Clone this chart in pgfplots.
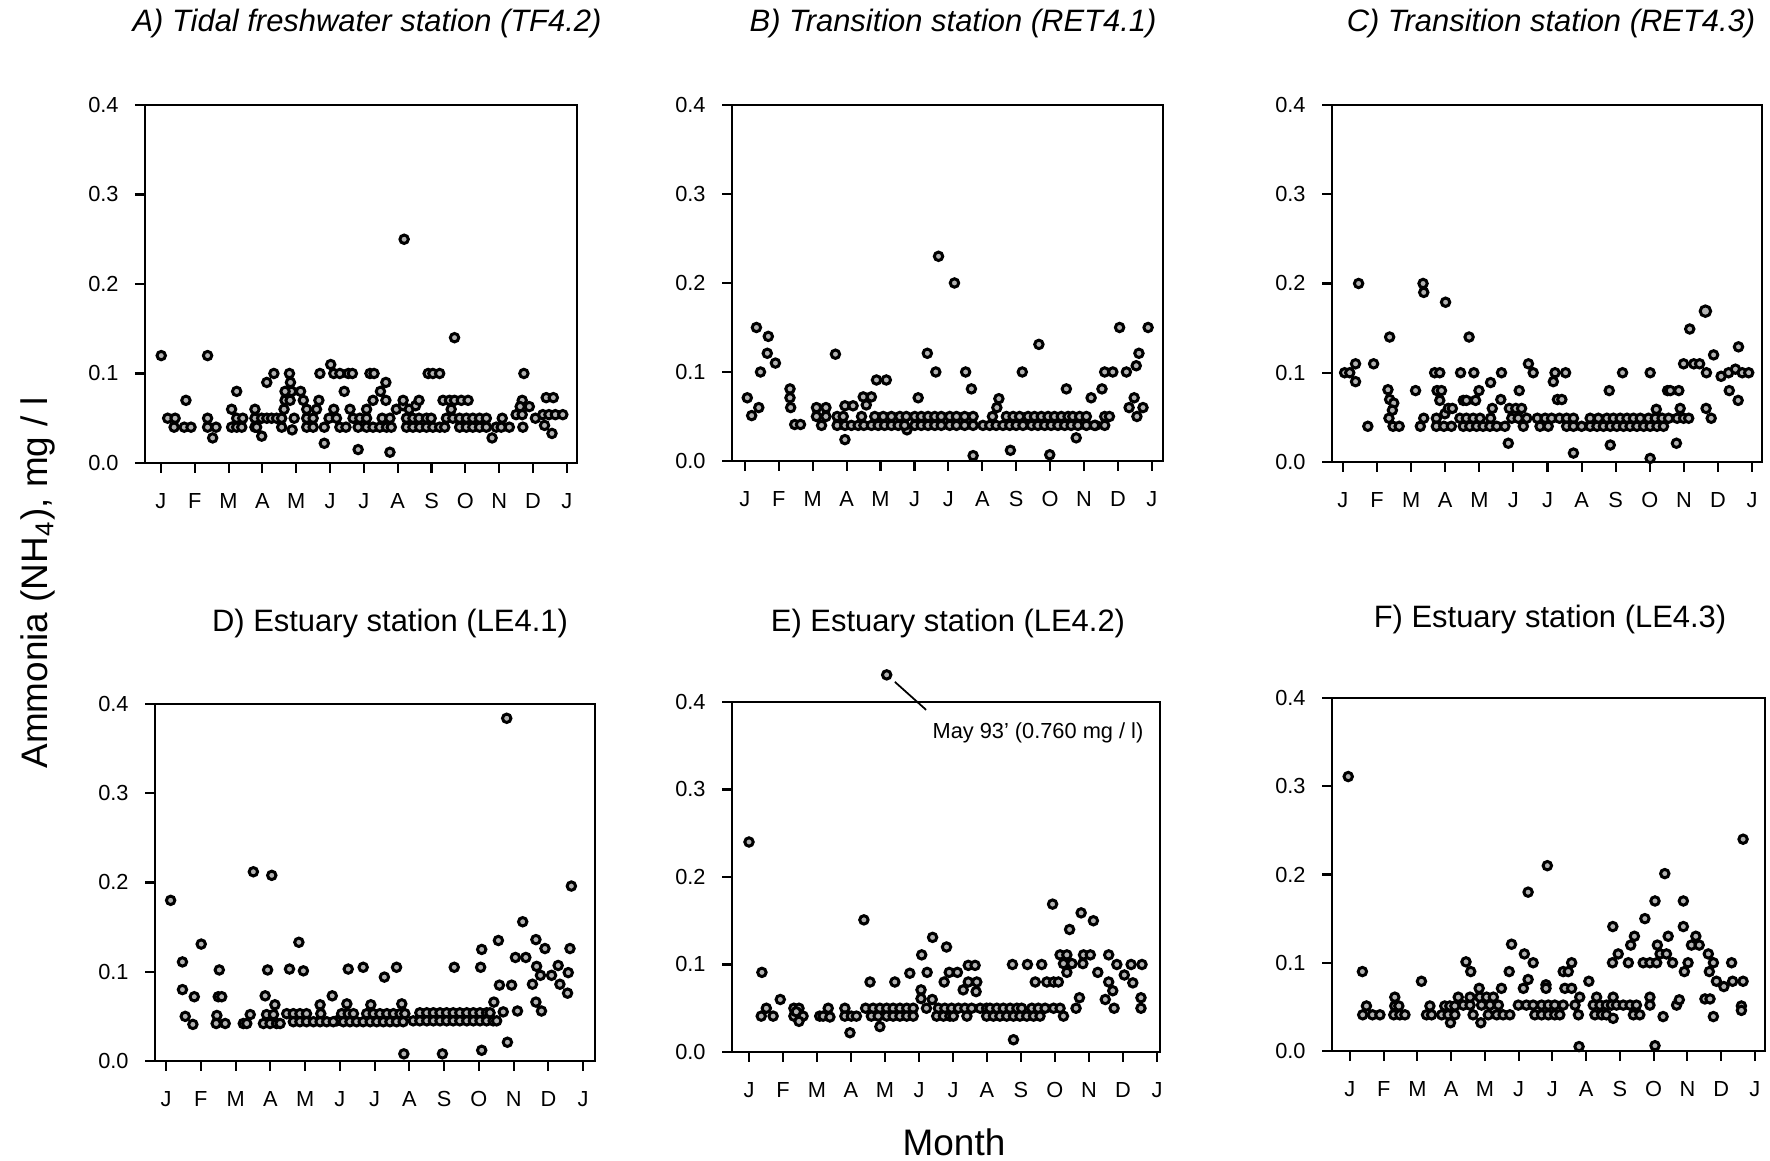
\documentclass[border=0pt]{standalone}
\usepackage{pgfplots}
\pgfplotsset{compat=1.18}
\usepackage{fontspec}
\setmainfont{Liberation Sans}

\pgfplotsset{
  panel/.style={
    scale only axis,
    anchor=south west,
    ymin=0, ymax=0.4,
    ytick={0,0.1,0.2,0.3,0.4},
    yticklabels={0.0,0.1,0.2,0.3,0.4},
    xtick={0,1,2,3,4,5,6,7,8,9,10,11,12},
    xticklabels={J,F,M,A,M,J,J,A,S,O,N,D,J},
    xtick pos=left, ytick pos=left,
    tick align=outside,
    major tick length=1mm,
    axis line style={line width=0.6pt},
    every tick/.style={black, line width=0.6pt},
    ticklabel style={font=\fontsize{6.2}{7}\selectfont},
    xticklabel style={yshift=-0.8mm},
    yticklabel style={xshift=-0.4mm},
  },
  pts/.style={only marks, mark=*, mark size=1.2pt,
    mark options={fill=gray!60, draw=black, line width=0.85pt}},
}

\begin{document}
\begin{tikzpicture}
\path[use as bounding box] (0,0) rectangle (177mm,116.1mm);

% ---------- A) TF4.2
\begin{axis}[panel, at={(14.5mm,69.8mm)}, width=43.2mm, height=35.8mm,
  xmin=-0.47, xmax=12.3]
\addplot[pts] coordinates {
(0.01,0.12) (1.38,0.12) (7.19,0.25) (8.68,0.14) (0.74,0.07)
(0.20,0.05) (0.42,0.05) (0.39,0.04) (0.69,0.04) (0.89,0.04)
(1.38,0.05) (1.38,0.04) (1.63,0.04) (1.53,0.028)
(2.24,0.08) (2.09,0.06) (2.09,0.04) (2.24,0.04) (2.39,0.04) (2.24,0.05) (2.42,0.05)
(2.78,0.06) (2.78,0.05) (2.98,0.05) (3.13,0.05) (3.27,0.05) (3.42,0.05)
(2.78,0.04) (2.83,0.04) (2.98,0.03) (3.13,0.09) (3.34,0.10)
(3.57,0.05) (3.57,0.04)
(3.80,0.10) (3.83,0.09) (3.86,0.08) (3.67,0.08) (3.67,0.07) (3.82,0.07) (3.64,0.06) (3.88,0.037) (3.94,0.05)
(4.13,0.08) (4.21,0.07) (4.31,0.06) (4.31,0.05) (4.50,0.05) (4.31,0.04) (4.50,0.04) (4.67,0.07) (4.60,0.06)
(4.70,0.10) (4.83,0.022) (4.83,0.04)
(4.97,0.05) (5.19,0.05) (5.11,0.06)
(5.02,0.11) (5.11,0.10) (5.29,0.10) (5.54,0.10) (5.66,0.10)
(5.29,0.04) (5.47,0.04) (5.42,0.08) (5.59,0.06) (5.83,0.015)
(5.68,0.05) (5.88,0.05) (6.08,0.05)
(5.83,0.04) (6.08,0.04) (6.27,0.04) (6.47,0.04) (6.67,0.04) (6.81,0.04)
(6.08,0.06) (6.27,0.07) (6.18,0.10) (6.30,0.10)
(6.49,0.08) (6.65,0.09) (6.65,0.07) (6.77,0.012)
(6.54,0.05) (6.77,0.05)
(6.96,0.06) (7.16,0.064) (7.34,0.06) (7.53,0.064) (7.16,0.07) (7.63,0.07)
(7.26,0.05) (7.45,0.05) (7.63,0.05) (7.85,0.05) (7.99,0.05)
(7.26,0.04) (7.45,0.04) (7.65,0.04) (7.85,0.04) (8.04,0.04) (8.24,0.04) (8.39,0.04)
(7.90,0.10) (8.04,0.10) (8.24,0.10)
(8.34,0.07) (8.53,0.07) (8.68,0.07) (8.88,0.07) (9.08,0.07) (8.58,0.06)
(8.44,0.05) (8.63,0.05) (8.83,0.05) (9.03,0.05) (9.22,0.05) (9.42,0.05) (9.62,0.05)
(8.83,0.04) (9.03,0.04) (9.22,0.04) (9.42,0.04) (9.62,0.04)
(9.79,0.028) (9.91,0.04) (10.06,0.04) (10.30,0.04) (10.09,0.05)
(10.73,0.10) (10.68,0.07) (10.62,0.063) (10.89,0.063) (10.50,0.054) (10.68,0.054) (10.70,0.04)
(11.07,0.05) (11.29,0.054) (11.47,0.054) (11.66,0.054) (11.88,0.054)
(11.34,0.042) (11.39,0.073) (11.60,0.073) (11.56,0.033)
};
\end{axis}

% ---------- B) RET4.1
\begin{axis}[panel, at={(73.2mm,70.0mm)}, width=43.1mm, height=35.6mm,
  xmin=-0.38, xmax=12.33]
\addplot[pts] coordinates {
(0.07,0.071) (0.20,0.051) (0.34,0.150) (0.41,0.060) (0.46,0.100) (0.69,0.140) (0.66,0.121) (0.90,0.110)
(1.33,0.081) (1.33,0.071) (1.35,0.060) (1.47,0.041) (1.64,0.041)
(2.11,0.060) (2.39,0.060) (2.11,0.050) (2.39,0.050) (2.26,0.040)
(2.67,0.120) (2.72,0.050) (2.90,0.050)
(2.95,0.062) (3.19,0.062) (2.95,0.024) (3.44,0.050)
(3.49,0.072) (3.73,0.072) (3.58,0.063) (3.88,0.091) (4.17,0.091)
(4.78,0.035) (5.11,0.071) (5.38,0.121) (5.63,0.100) (5.71,0.230) (6.18,0.200) (6.51,0.100) (6.68,0.081) (6.73,0.006)
(7.49,0.070) (7.43,0.060) (7.30,0.050)
(7.83,0.012) (8.18,0.100) (8.67,0.131) (8.99,0.007) (9.48,0.081) (9.77,0.026)
(10.21,0.071) (10.34,0.040) (10.53,0.081) (10.61,0.100) (10.85,0.100) (10.61,0.050) (10.75,0.050) (10.61,0.040)
(11.05,0.150) (11.25,0.100) (11.33,0.060) (11.48,0.071) (11.54,0.107) (11.62,0.121) (11.56,0.050) (11.74,0.060) (11.89,0.150)
};
\addplot[pts] coordinates {
(3.83,0.05) (4.08,0.05) (4.32,0.05) (4.57,0.05) (4.76,0.05) (5.01,0.05) (5.20,0.05) (5.40,0.05)
(5.60,0.05) (5.79,0.05) (6.04,0.05) (6.24,0.05) (6.48,0.05) (6.73,0.05) (7.71,0.05) (7.91,0.05)
(8.10,0.05) (8.35,0.05) (8.54,0.05) (8.74,0.05) (8.94,0.05) (9.13,0.05) (9.33,0.05) (9.53,0.05)
(9.67,0.05) (9.87,0.05) (10.07,0.05)
};
\addplot[pts] coordinates {
(2.72,0.04) (2.95,0.04) (3.14,0.04) (3.34,0.04) (3.51,0.04) (3.73,0.04) (3.93,0.04) (4.12,0.04)
(4.32,0.04) (4.52,0.04) (4.71,0.04) (5.01,0.04) (5.20,0.04) (5.40,0.04) (5.60,0.04) (5.79,0.04)
(6.04,0.04) (6.24,0.04) (6.48,0.04) (6.73,0.04) (7.02,0.04) (7.22,0.04) (7.41,0.04) (7.61,0.04)
(7.81,0.04) (8.00,0.04) (8.20,0.04) (8.45,0.04) (8.64,0.04) (8.84,0.04) (9.03,0.04) (9.23,0.04)
(9.43,0.04) (9.62,0.04) (9.82,0.04) (10.07,0.04) (10.31,0.04)
};
\end{axis}

% ---------- C) RET4.3
\begin{axis}[panel, at={(133.2mm,69.9mm)}, width=43.0mm, height=35.7mm,
  xmin=-0.32, xmax=12.29]
\addplot[pts] coordinates {
(0.05,0.10) (0.20,0.10) (0.37,0.11) (0.37,0.09) (0.46,0.20) (0.73,0.04) (0.90,0.11)
(1.37,0.14) (1.32,0.081) (1.37,0.070) (1.49,0.066) (1.45,0.058) (1.35,0.049) (1.47,0.04) (1.65,0.04)
(2.13,0.08) (2.27,0.04) (2.37,0.049) (2.35,0.20) (2.37,0.19)
(3.01,0.179) (2.69,0.10) (2.84,0.10) (2.76,0.08) (2.89,0.08) (2.84,0.069) (2.74,0.049) (2.99,0.054)
(3.45,0.10) (3.53,0.069) (3.62,0.069) (3.70,0.14) (3.84,0.10) (3.99,0.08) (3.89,0.069)
(4.33,0.089) (4.65,0.10) (4.63,0.07) (4.85,0.021)
(5.17,0.08) (5.44,0.11) (5.58,0.10)
(6.17,0.09) (6.22,0.10) (6.29,0.07) (6.42,0.07) (6.53,0.10) (6.76,0.01)
(7.81,0.08) (7.84,0.019) (8.20,0.10) (9.01,0.10) (9.01,0.004) (9.19,0.059)
(9.52,0.08) (9.60,0.08) (9.78,0.021) (9.85,0.08) (9.89,0.06) (9.99,0.11)
(10.17,0.149) (10.29,0.11) (10.46,0.11) (10.66,0.10) (10.65,0.06) (10.80,0.049) (10.87,0.12)
(11.09,0.096) (11.31,0.10) (11.51,0.104) (11.71,0.10) (11.90,0.10) (11.33,0.08) (11.60,0.129) (11.59,0.069)
(3.09,0.06) (3.21,0.06) (4.38,0.06) (4.88,0.06) (5.07,0.06) (5.24,0.06)
};
\addplot[pts, mark size=1.5pt] coordinates {(10.63,0.169)};
\addplot[pts] coordinates {
(3.43,0.049) (3.62,0.049) (3.82,0.049) (4.02,0.049) (4.33,0.049) (4.95,0.049) (5.14,0.049) (5.39,0.049)
(5.70,0.049) (5.93,0.049) (6.12,0.049) (6.35,0.049) (6.56,0.049) (6.76,0.049) (7.25,0.049) (7.49,0.049)
(7.74,0.049) (7.93,0.049) (8.13,0.049) (8.33,0.049) (8.52,0.049) (8.72,0.049) (8.96,0.049) (9.16,0.049)
(9.36,0.049) (9.55,0.049) (9.80,0.049) (9.99,0.049) (10.14,0.049)
};
\addplot[pts] coordinates {
(2.74,0.04) (2.96,0.04) (3.18,0.04) (3.53,0.04) (3.72,0.04) (3.92,0.04) (4.11,0.04) (4.31,0.04)
(4.51,0.04) (4.75,0.04) (5.29,0.04) (5.78,0.04) (6.02,0.04) (6.56,0.04) (6.76,0.04) (7.00,0.04)
(7.25,0.04) (7.45,0.04) (7.64,0.04) (7.84,0.04) (8.03,0.04) (8.23,0.04) (8.42,0.04) (8.62,0.04)
(8.82,0.04) (9.01,0.04) (9.21,0.04) (9.40,0.04)
};
\end{axis}

% ---------- D) LE4.1
\begin{axis}[panel, at={(15.5mm,10.0mm)}, width=44.0mm, height=35.7mm,
  xmin=-0.32, xmax=12.34]
\addplot[pts] coordinates {
(0.13,0.18) (0.47,0.111) (0.47,0.080) (0.55,0.050) (0.77,0.041) (0.81,0.072) (1.01,0.131)
(1.46,0.051) (1.44,0.042) (1.70,0.042) (1.53,0.102) (1.50,0.072) (1.60,0.072)
(2.22,0.042) (2.32,0.042) (2.42,0.052) (2.51,0.212) (2.85,0.073) (2.92,0.102) (3.04,0.208)
(2.89,0.052) (3.09,0.052) (3.13,0.063) (3.55,0.103) (3.82,0.133) (3.95,0.101) (4.43,0.063) (4.78,0.073) (4.91,0.045)
(5.24,0.103) (5.20,0.064) (5.67,0.105) (5.89,0.063) (6.28,0.094) (6.63,0.105) (6.78,0.064) (6.84,0.008)
(7.95,0.008) (8.29,0.105) (9.08,0.125) (9.05,0.105) (9.08,0.012) (9.43,0.066) (9.56,0.135) (9.59,0.085)
(9.70,0.055) (9.80,0.384) (9.82,0.021) (9.94,0.085)
(10.05,0.116) (10.11,0.056) (10.26,0.156) (10.35,0.116) (10.54,0.086) (10.64,0.136) (10.66,0.106) (10.64,0.066)
(10.77,0.096) (10.80,0.056) (10.90,0.126)
(11.09,0.096) (11.28,0.107) (11.33,0.086) (11.55,0.076) (11.57,0.099) (11.62,0.126) (11.66,0.196)
(2.80,0.042) (2.99,0.042) (3.18,0.042) (3.28,0.042)
};
\addplot[pts] coordinates {
(3.47,0.053) (3.66,0.053) (3.85,0.053) (4.04,0.053) (4.45,0.053) (5.05,0.053) (5.24,0.053) (5.39,0.053)
(5.77,0.053) (5.96,0.053) (6.15,0.053) (6.35,0.053) (6.54,0.053) (6.73,0.053) (6.87,0.053) (7.30,0.054)
(7.50,0.054) (7.69,0.054) (7.88,0.054) (8.07,0.054) (8.26,0.054) (8.45,0.054) (8.65,0.054) (8.84,0.054)
(9.03,0.054) (9.22,0.054) (9.32,0.054)
};
\addplot[pts] coordinates {
(3.66,0.044) (3.85,0.044) (4.04,0.044) (4.24,0.044) (4.43,0.044) (4.62,0.044) (4.81,0.044) (5.10,0.044)
(5.29,0.044) (5.48,0.044) (5.67,0.044) (5.87,0.044) (6.06,0.044) (6.25,0.044) (6.44,0.044) (6.63,0.044)
(6.82,0.044) (7.11,0.045) (7.30,0.045) (7.50,0.045) (7.69,0.045) (7.88,0.045) (8.07,0.045) (8.26,0.045)
(8.45,0.045) (8.65,0.045) (8.84,0.045) (9.03,0.045) (9.22,0.045) (9.41,0.045) (9.51,0.045)
};
\end{axis}

% ---------- E) LE4.2
\begin{axis}[panel, at={(73.2mm,10.9mm)}, width=42.8mm, height=35.0mm,
  xmin=-0.5, xmax=12.09, clip=false]
\addplot[pts] coordinates {
(0.00,0.240) (0.38,0.091) (0.36,0.041) (0.71,0.041) (0.51,0.050) (0.92,0.060)
(1.32,0.050) (1.47,0.050) (1.32,0.041) (1.59,0.041) (1.47,0.035) (1.39,0.046)
(2.08,0.041) (2.18,0.041) (2.33,0.050) (2.38,0.040) (2.82,0.050) (2.82,0.041) (3.01,0.041) (3.16,0.041) (2.97,0.022)
(3.38,0.151) (3.56,0.080) (3.85,0.029) (4.05,0.431) (4.29,0.080) (4.73,0.090)
(5.08,0.111) (5.06,0.071) (5.06,0.061) (5.24,0.091) (5.40,0.131) (5.39,0.060)
(5.74,0.080) (5.81,0.120) (5.89,0.091) (6.13,0.091) (6.30,0.071) (6.45,0.080) (6.70,0.080) (6.45,0.099) (6.65,0.099) (6.68,0.069)
(7.75,0.100) (7.78,0.014) (8.19,0.100) (8.42,0.080) (8.61,0.100)
(8.76,0.080) (8.96,0.080) (9.10,0.080) (8.93,0.169)
(9.15,0.111) (9.35,0.111) (9.25,0.101) (9.50,0.101) (9.35,0.091) (9.43,0.140) (9.62,0.050) (9.72,0.062)
(9.77,0.159) (9.82,0.101) (9.84,0.111) (10.04,0.111)
(10.13,0.150) (10.26,0.091) (10.48,0.060) (10.58,0.111) (10.58,0.080) (10.70,0.070) (10.74,0.050) (10.82,0.100)
(11.04,0.088) (11.24,0.100) (11.29,0.079) (11.53,0.062) (11.53,0.050) (11.56,0.100)
};
\addplot[pts] coordinates {
(3.43,0.05) (3.65,0.05) (3.85,0.05) (4.05,0.05) (4.24,0.05) (4.44,0.05) (4.64,0.05) (4.83,0.05)
(5.22,0.05) (5.57,0.05) (5.76,0.05) (5.96,0.05) (6.16,0.05) (6.35,0.05) (6.55,0.05) (6.80,0.05)
(6.99,0.05) (7.09,0.05) (7.29,0.05) (7.48,0.05) (7.68,0.05) (7.88,0.05) (8.02,0.05) (8.32,0.05)
(8.51,0.05) (8.71,0.05) (8.96,0.05) (9.15,0.05)
};
\addplot[pts] coordinates {
(3.60,0.041) (3.80,0.041) (4.05,0.041) (4.24,0.041) (4.44,0.041) (4.64,0.041) (4.83,0.041) (5.52,0.041)
(5.72,0.041) (5.91,0.041) (6.01,0.041) (6.41,0.041) (6.99,0.041) (7.19,0.041) (7.38,0.041) (7.58,0.041)
(7.78,0.041) (7.97,0.041) (8.17,0.041) (8.37,0.041) (8.56,0.041) (9.25,0.041)
};
\draw[line width=0.5pt] (axis cs:4.29,0.423) -- (axis cs:5.21,0.391);
\node[anchor=west, font=\fontsize{6.2}{7}\selectfont, inner sep=0pt] at (axis cs:5.38,0.365) {May 93' (0.760 mg / l)};
\end{axis}

% ---------- F) LE4.3
\begin{axis}[panel, at={(133.2mm,11.0mm)}, width=43.3mm, height=35.3mm,
  xmin=-0.53, xmax=12.3]
\addplot[pts] coordinates {
(-0.05,0.311) (0.37,0.090) (0.38,0.041) (0.67,0.041) (0.89,0.041) (0.49,0.051)
(1.33,0.061) (1.33,0.051) (1.30,0.041) (1.48,0.041) (1.63,0.041) (1.45,0.051)
(2.12,0.079) (2.27,0.041) (2.42,0.041) (2.37,0.051)
(2.72,0.041) (2.91,0.041) (3.11,0.041) (2.81,0.051) (2.96,0.051) (3.11,0.051) (3.21,0.061) (2.98,0.032)
(3.44,0.101) (3.58,0.090) (3.36,0.052) (3.56,0.052) (3.56,0.061) (3.65,0.041)
(3.83,0.071) (3.85,0.061) (4.05,0.061) (4.25,0.061) (3.90,0.052) (4.15,0.052) (4.40,0.052)
(4.10,0.041) (4.35,0.041) (4.54,0.041) (4.74,0.041) (3.88,0.032)
(4.49,0.071) (4.72,0.090) (4.79,0.121) (4.99,0.052)
(5.14,0.071) (5.17,0.110) (5.28,0.081) (5.28,0.180) (5.23,0.052) (5.43,0.052) (5.43,0.100)
(5.48,0.041) (5.68,0.041) (5.88,0.041) (6.07,0.041) (6.22,0.041) (5.68,0.052) (5.88,0.052) (6.07,0.052) (6.32,0.052)
(5.81,0.075) (5.81,0.071) (5.85,0.210)
(6.32,0.090) (6.47,0.090) (6.57,0.100) (6.37,0.071) (6.57,0.071) (6.67,0.052) (6.77,0.041) (6.81,0.061) (6.79,0.005)
(7.08,0.079) (7.21,0.052) (7.31,0.061) (7.41,0.052) (7.60,0.052) (7.75,0.052) (7.90,0.052) (8.10,0.052) (8.30,0.052) (8.49,0.052)
(7.26,0.041) (7.46,0.041) (7.60,0.041) (8.40,0.041) (8.59,0.041) (7.80,0.037)
(7.79,0.141) (7.78,0.100) (7.80,0.061) (7.95,0.110) (8.25,0.100) (8.32,0.120) (8.43,0.130) (8.74,0.150)
(8.69,0.100) (8.89,0.100) (8.89,0.061) (8.89,0.052)
(9.04,0.170) (9.04,0.006) (9.11,0.120) (9.09,0.100) (9.19,0.110) (9.28,0.039) (9.33,0.201) (9.43,0.130)
(9.38,0.110) (9.56,0.100) (9.68,0.052) (9.76,0.058)
(9.88,0.170) (9.88,0.141) (9.91,0.090) (10.02,0.100) (10.12,0.120) (10.25,0.130) (10.35,0.120)
(10.62,0.110) (10.65,0.090) (10.77,0.100) (10.52,0.059) (10.67,0.059) (10.77,0.039) (10.86,0.079)
(11.08,0.073) (11.31,0.100) (11.34,0.079) (11.60,0.051) (11.60,0.046) (11.65,0.240) (11.65,0.079)
};
\end{axis}

% titles and shared labels
\begin{scope}[font=\fontsize{8.8}{10}\selectfont]
\node at (36.7mm,113.7mm) {\itshape A) Tidal freshwater station (TF4.2)};
\node at (95.3mm,113.7mm) {\itshape B) Transition station (RET4.1)};
\node at (155.1mm,113.7mm) {\itshape C) Transition station (RET4.3)};
\node at (39.0mm,53.7mm) {D) Estuary station (LE4.1)};
\node at (94.8mm,53.7mm) {E) Estuary station (LE4.2)};
\node at (155.0mm,54.1mm) {F) Estuary station (LE4.3)};
\end{scope}
\node[rotate=90, font=\fontsize{10.5}{12}\selectfont] at (3.8mm,57.8mm) {Ammonia (NH\textsubscript{4}), mg / l};
\node[font=\fontsize{10.5}{12}\selectfont] at (95.4mm,1.9mm) {Month};
\end{tikzpicture}
\end{document}
